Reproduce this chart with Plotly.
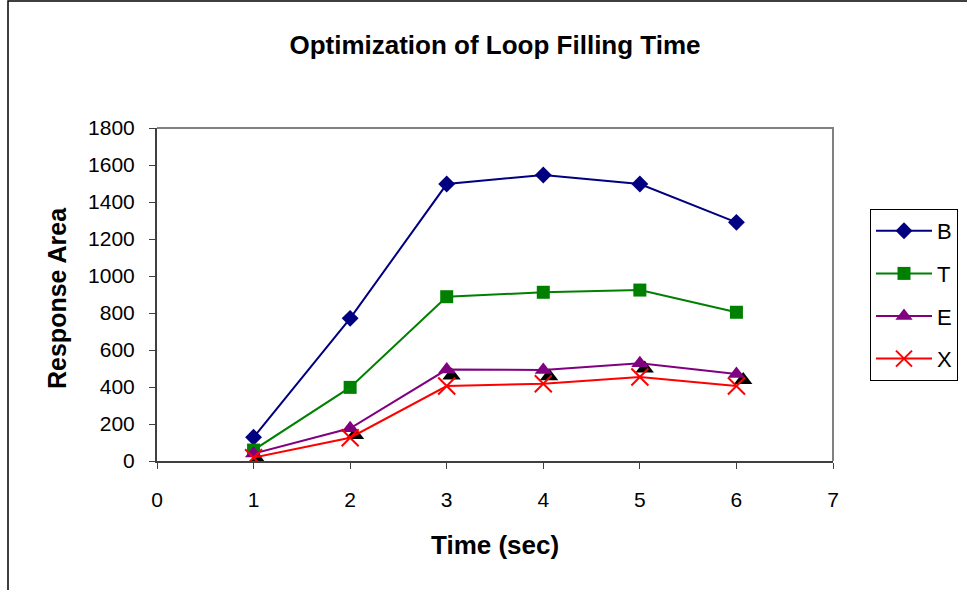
import plotly.graph_objects as go

# ---- data ----
time_sec = [1, 2, 3, 4, 5, 6]
B_vals = [128, 771, 1497, 1546, 1497, 1290]
T_vals = [59, 398, 888, 912, 924, 804]
E_vals = [40, 177, 494, 492, 528, 470]
X_vals = [18, 126, 405, 418, 454, 405]
# black triangle series (no legend), drawn behind
shadow_x = [1.04, 2.05, 3.05, 4.06, 5.05, 6.07]
shadow_y = [5, 140, 462, 458, 500, 438]

x_ticks = [0, 1, 2, 3, 4, 5, 6, 7]
y_ticks = [0, 200, 400, 600, 800, 1000, 1200, 1400, 1600, 1800]

W, H = 967, 590
L, R, T, Bm = 157, 134, 128, 129
PW, PH = W - L - R, H - T - Bm


def px(xp):
    return (xp - L) / PW


def py(yp):
    return (H - Bm - yp) / PH


FONT = "Liberation Sans, Arial, sans-serif"

fig = go.Figure()
fig.add_trace(go.Scatter(x=shadow_x, y=shadow_y, mode="markers", showlegend=False,
                         marker=dict(symbol="triangle-up", size=16, color="black"),
                         hoverinfo="skip", legendgroup="shadow"))
series = [
    ("B", B_vals, "#000080", "diamond", 13),
    ("T", T_vals, "#008000", "square", 13),
    ("E", E_vals, "#800080", "triangle-up", 15),
    ("X", X_vals, "#FF0000", "x-thin", 17),
]
for name, vals, col, sym, sz in series:
    mk = dict(symbol=sym, size=sz, color=col)
    if sym == "x-thin":
        mk["line"] = dict(color=col, width=2)
    fig.add_trace(go.Scatter(x=time_sec, y=vals, name=name, mode="lines+markers",
                             line=dict(color=col, width=2), marker=mk,
                             legendgroup=name))

fig.update_layout(
    width=W, height=H,
    margin=dict(l=L, r=R, t=T, b=Bm, pad=0, autoexpand=False),
    paper_bgcolor="white", plot_bgcolor="white",
    font=dict(family=FONT, color="black", size=21),
    title=dict(text="<b>Optimization of Loop Filling Time</b>", x=0.5, xref="paper",
               xanchor="center", y=1 - 45 / H, yref="container", yanchor="middle",
               font=dict(size=26, family=FONT, color="black")),
    xaxis=dict(range=[0, 7], tickvals=x_ticks, ticks="outside", ticklen=6, tickwidth=1,
               tickcolor="#404040", showgrid=False, zeroline=False, showline=True,
               linecolor="#404040", linewidth=2, layer="below traces",
               ticklabelstandoff=13, tickfont=dict(size=21)),
    yaxis=dict(range=[0, 1800], tickvals=y_ticks, ticks="outside", ticklen=6, tickwidth=1,
               tickcolor="#404040", showgrid=False, zeroline=False, showline=True,
               linecolor="#404040", linewidth=2, layer="below traces",
               ticklabelstandoff=10, tickfont=dict(size=21)),
    legend=dict(x=px(870), y=py(209), xanchor="left", yanchor="top",
                bordercolor="black", borderwidth=1, bgcolor="white",
                font=dict(size=22, family=FONT), tracegroupgap=11,
                traceorder="grouped", itemwidth=56),
    showlegend=True,
)

# plot area border top/right (gray)
fig.add_shape(type="path", xref="paper", yref="paper", path="M0,1 L1,1 L1,0",
              line=dict(color="#808080", width=2), layer="below")
# outer chart frame (left and top edges visible)
fig.add_shape(type="path", xref="paper", yref="paper",
              path=f"M{px(8)},{py(600)} L{px(8)},{py(1)} L{px(1000)},{py(1)}",
              line=dict(color="black", width=1.5), layer="below")

fig.add_annotation(text="<b>Time (sec)</b>", xref="paper", yref="paper", x=0.5, y=py(545),
                   xanchor="center", yanchor="middle", showarrow=False,
                   font=dict(size=26, family=FONT, color="black"))
fig.add_annotation(text="<b>Response Area</b>", xref="paper", yref="paper", x=px(57),
                   y=py(298), xanchor="center", yanchor="middle", showarrow=False,
                   textangle=-90, font=dict(size=25, family=FONT, color="black"))

fig.write_html("out.html")
